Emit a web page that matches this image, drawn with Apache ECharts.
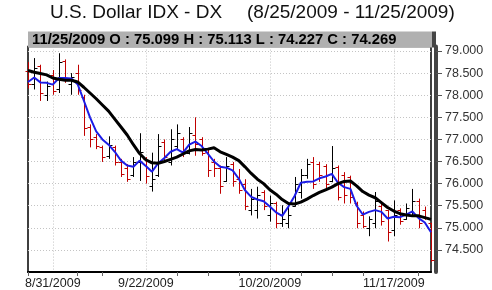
<!DOCTYPE html>
<html>
<head>
<meta charset="utf-8">
<script src="https://cdn.jsdelivr.net/npm/echarts@6/dist/echarts.min.js"></script>
<style>
  html, body { margin: 0; padding: 0; background: #fff; }
  #chart { width: 492px; height: 290px; }
</style>
</head>
<body>
<div id="chart"></div>
<script>
// trading days shown on the chart
const dates = ['8/25/2009','8/26/2009','8/27/2009','8/28/2009','8/31/2009','9/1/2009','9/2/2009','9/3/2009','9/4/2009','9/8/2009',
  '9/9/2009','9/10/2009','9/11/2009','9/14/2009','9/15/2009','9/16/2009','9/17/2009','9/18/2009','9/21/2009','9/22/2009',
  '9/23/2009','9/24/2009','9/25/2009','9/28/2009','9/29/2009','9/30/2009','10/1/2009','10/2/2009','10/5/2009','10/6/2009',
  '10/7/2009','10/8/2009','10/9/2009','10/12/2009','10/13/2009','10/14/2009','10/15/2009','10/16/2009','10/19/2009','10/20/2009',
  '10/21/2009','10/22/2009','10/23/2009','10/26/2009','10/27/2009','10/28/2009','10/29/2009','10/30/2009','11/2/2009','11/3/2009',
  '11/4/2009','11/5/2009','11/6/2009','11/9/2009','11/10/2009','11/11/2009','11/12/2009','11/13/2009','11/16/2009','11/17/2009',
  '11/18/2009','11/19/2009','11/20/2009','11/23/2009','11/24/2009','11/25/2009'];

const opens = [78.55, 78.25, 78.65, 78.00, 78.45, 78.15, 78.78, 78.25, 78.50, 77.95,
  77.28, 77.05, 76.82, 76.62, 76.82, 76.50, 76.36, 76.20, 76.50, 76.55,
  75.95, 76.20, 76.95, 76.50, 76.85, 77.02, 76.70, 77.10, 77.00, 76.72,
  76.50, 76.35, 76.05, 76.45, 76.10, 76.00, 75.40, 75.40, 75.80, 75.30,
  75.55, 75.10, 75.10, 75.50, 75.80, 76.20, 76.50, 76.45, 76.40, 76.05,
  76.38, 76.20, 76.15, 75.55, 75.30, 75.00, 75.10, 75.50, 75.40, 74.95,
  75.40, 75.20, 75.35, 75.60, 75.40, 75.099];
const highs = [78.75, 78.84, 78.69, 78.31, 78.57, 78.95, 78.81, 78.50, 78.69, 78.01,
  77.34, 77.12, 76.86, 77.07, 76.86, 76.56, 76.44, 76.60, 77.14, 76.60,
  76.70, 77.12, 77.00, 77.23, 77.34, 77.05, 77.28, 77.50, 77.05, 76.78,
  76.56, 76.41, 76.60, 76.49, 76.33, 76.10, 75.88, 75.93, 75.85, 75.73,
  75.59, 75.51, 75.55, 76.15, 76.33, 76.56, 76.60, 76.49, 76.44, 76.85,
  76.41, 76.26, 76.18, 75.59, 75.37, 75.26, 75.81, 75.55, 75.40, 75.62,
  75.44, 75.55, 75.88, 75.66, 75.48, 75.113];
const lows = [78.15, 78.13, 77.87, 77.87, 78.01, 78.05, 78.28, 78.01, 78.01, 77.08,
  76.82, 76.78, 76.49, 76.56, 76.41, 76.15, 76.04, 76.15, 76.06, 76.00,
  75.82, 76.15, 76.49, 76.41, 76.78, 76.60, 76.66, 76.63, 76.63, 76.15,
  76.15, 75.77, 76.04, 75.93, 75.77, 75.40, 75.28, 75.21, 75.40, 75.14,
  74.99, 75.02, 74.99, 75.48, 75.66, 76.11, 75.88, 76.04, 75.88, 76.03,
  75.62, 75.55, 75.55, 74.99, 74.99, 74.81, 74.99, 75.05, 74.69, 74.81,
  75.07, 75.18, 75.25, 74.99, 75.18, 74.227];
const closes = [78.25, 78.62, 78.05, 78.20, 78.10, 78.75, 78.35, 78.42, 78.12, 77.25,
  77.00, 76.85, 76.60, 76.88, 76.50, 76.22, 76.10, 76.50, 76.72, 76.18,
  76.10, 76.85, 76.60, 77.00, 77.15, 76.70, 77.15, 76.90, 76.70, 76.30,
  76.35, 75.95, 76.40, 76.05, 75.85, 75.50, 75.65, 75.75, 75.50, 75.55,
  75.10, 75.20, 75.30, 76.00, 76.20, 76.45, 76.00, 76.20, 76.00, 76.35,
  75.70, 75.75, 75.70, 75.10, 75.05, 75.20, 75.60, 75.15, 74.90, 75.30,
  75.15, 75.45, 75.60, 75.10, 75.25, 74.269];

// moving averages
const fastMa = [78.30, 78.40, 78.29, 78.28, 78.24, 78.39, 78.39, 78.38, 78.25, 77.88,
  77.50, 77.18, 77.00, 76.88, 76.72, 76.52, 76.41, 76.38, 76.52, 76.40,
  76.27, 76.46, 76.58, 76.72, 76.78, 76.70, 76.88, 76.95, 76.85, 76.68,
  76.50, 76.38, 76.36, 76.30, 76.11, 75.85, 75.70, 75.64, 75.60, 75.48,
  75.35, 75.27, 75.48, 75.72, 76.02, 76.04, 76.05, 76.12, 76.16, 76.22,
  76.02, 75.92, 75.88, 75.50, 75.30, 75.36, 75.40, 75.36, 75.21, 75.25,
  75.24, 75.30, 75.37, 75.22, 75.12, 74.90];
const slowMa = [78.56, 78.52, 78.49, 78.46, 78.39, 78.36, 78.34, 78.34, 78.30, 78.18,
  78.05, 77.92, 77.78, 77.64, 77.46, 77.28, 77.10, 76.88, 76.68, 76.54,
  76.47, 76.46, 76.50, 76.55, 76.60, 76.67, 76.74, 76.77, 76.76, 76.78,
  76.81, 76.72, 76.66, 76.60, 76.52, 76.38, 76.23, 76.10, 76.00, 75.86,
  75.76, 75.64, 75.55, 75.54, 75.58, 75.65, 75.73, 75.80, 75.86, 75.92,
  76.00, 76.05, 76.06, 75.95, 75.82, 75.74, 75.68, 75.57, 75.46, 75.38,
  75.32, 75.29, 75.27, 75.27, 75.23, 75.19];

const labelDates = ['8/31/2009', '9/22/2009', '10/20/2009', '11/17/2009'];
const tickDates = ['8/25/2009', '9/4/2009', '9/11/2009', '9/29/2009', '10/6/2009', '10/13/2009',
  '10/27/2009', '11/3/2009', '11/10/2009', '11/23/2009'];

const FONT = '"Liberation Sans", Arial, sans-serif';
const GRID_LINE = { color: '#c4c4c4', width: 1, type: [1, 2] };

const ohlc = dates.map((d, i) => [i, opens[i], highs[i], lows[i], closes[i]]);

function renderBar(params, api) {
  const i = api.value(0);
  const o = api.coord([i, api.value(1)]);
  const h = api.coord([i, api.value(2)]);
  const l = api.coord([i, api.value(3)]);
  const c = api.coord([i, api.value(4)]);
  const col = api.value(4) < api.value(1) ? '#c00000' : '#000000';
  const x = Math.round(h[0]) + 0.5;
  const yo = Math.round(o[1]) + 0.5;
  const yc = Math.round(c[1]) + 0.5;
  const style = { stroke: col, lineWidth: 1 };
  return {
    type: 'group',
    children: [
      { type: 'line', shape: { x1: x, y1: h[1], x2: x, y2: l[1] }, style },
      { type: 'line', shape: { x1: x - 3, y1: yo, x2: x, y2: yo }, style },
      { type: 'line', shape: { x1: x, y1: yc, x2: x + 3, y2: yc }, style }
    ]
  };
}

const chart = echarts.init(document.getElementById('chart'));
chart.setOption({
  animation: false,
  backgroundColor: '#fff',
  grid: { left: 28, right: 61, top: 46.6, bottom: 18, show: true, borderColor: '#000', borderWidth: 1.5 },
  xAxis: {
    type: 'category',
    data: dates,
    boundaryGap: false,
    axisLine: { lineStyle: { color: '#000', width: 2 } },
    axisTick: {
      interval: (i, v) => tickDates.includes(v),
      length: 4,
      lineStyle: { color: '#666' }
    },
    axisLabel: {
      interval: (i, v) => labelDates.includes(v),
      margin: 5,
      color: '#222',
      fontFamily: FONT,
      fontSize: 12.5
    },
    splitLine: { show: true, interval: (i, v) => labelDates.includes(v), lineStyle: GRID_LINE }
  },
  yAxis: {
    type: 'value',
    position: 'right',
    min: 74,
    max: 79.1,
    interval: 0.5,
    offset: 5,
    axisLine: { show: true, lineStyle: { color: '#454545', width: 4 } },
    axisTick: { show: true, length: 6, lineStyle: { color: '#555' } },
    axisLabel: {
      showMinLabel: false,
      showMaxLabel: false,
      margin: 9,
      color: '#333',
      fontFamily: FONT,
      fontSize: 12.5,
      formatter: v => v.toFixed(3)
    },
    splitLine: { show: true, lineStyle: GRID_LINE }
  },
  series: [
    {
      type: 'custom',
      data: ohlc,
      encode: { x: 0, y: [1, 2, 3, 4] },
      renderItem: renderBar,
      z: 2
    },
    {
      type: 'line',
      data: fastMa,
      showSymbol: false,
      lineStyle: { color: '#1c1ce6', width: 2 },
      z: 3
    },
    {
      type: 'line',
      data: slowMa,
      showSymbol: false,
      lineStyle: { color: '#000', width: 3 },
      z: 4
    }
  ],
  graphic: [
    { type: 'text', left: 50, top: 3, style: { text: 'U.S. Dollar IDX - DX', font: '19px ' + FONT, fill: '#111' } },
    { type: 'text', left: 247, top: 3, style: { text: '(8/25/2009 - 11/25/2009)', font: '19px ' + FONT, fill: '#111' } },
    { type: 'rect', left: 28, top: 31.5, shape: { width: 404, height: 16 }, style: { fill: '#b0b0b0' }, z: 10 },
    { type: 'rect', left: 432, top: 31.5, shape: { width: 4, height: 16 }, style: { fill: '#454545' }, z: 10 },
    { type: 'text', left: 32, top: 32, z: 11,
      style: { text: '11/25/2009 O : 75.099 H : 75.113 L : 74.227 C : 74.269', font: 'bold 14.8px ' + FONT, fill: '#000' } }
  ]
});
</script>
</body>
</html>
